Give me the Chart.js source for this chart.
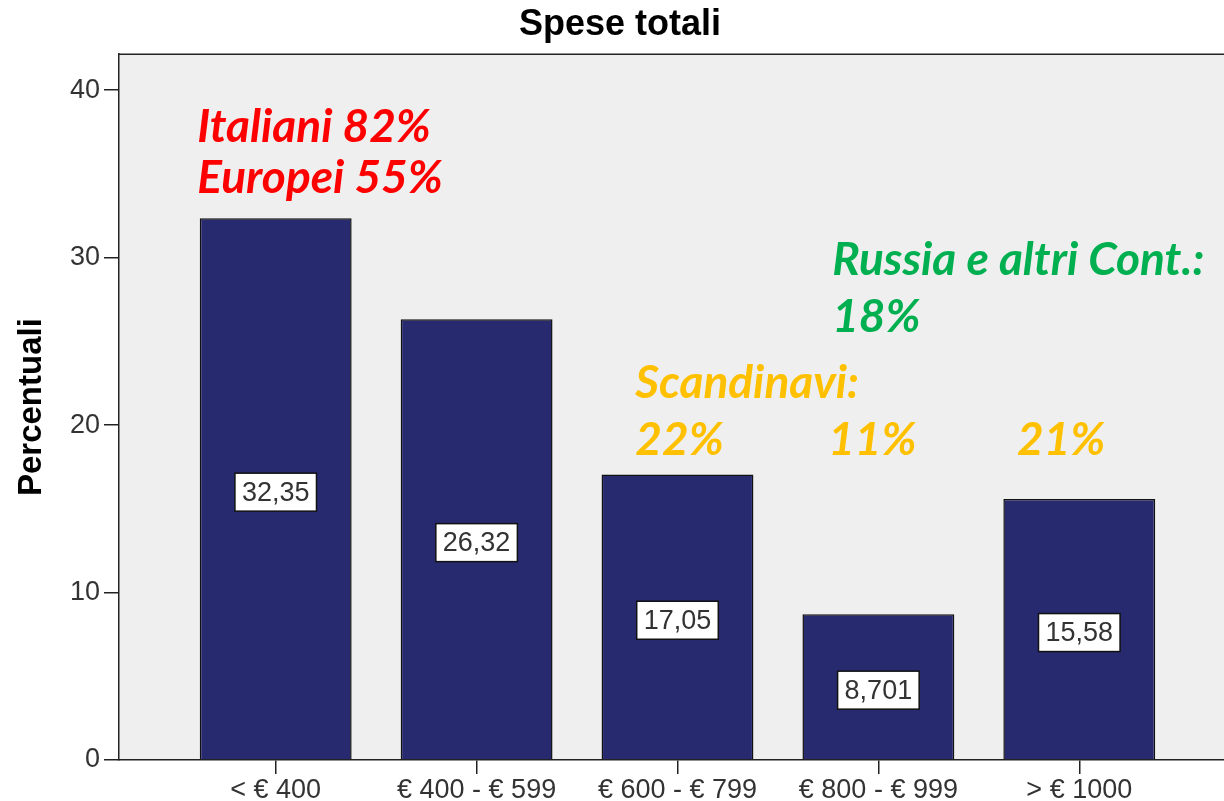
<!DOCTYPE html>
<html>
<head>
<meta charset="utf-8">
<title>Spese totali</title>
<script src="https://cdn.jsdelivr.net/npm/chart.js@4.4.1/dist/chart.umd.min.js"></script>
<style>
  html, body { margin: 0; padding: 0; background: #fff; overflow: hidden; }
</style>
</head>
<body>
<canvas id="chartCanvas" width="1240" height="801"></canvas>
<script>
// Data
const categories = ["< \u20AC 400", "\u20AC 400 - \u20AC 599", "\u20AC 600 - \u20AC 799", "\u20AC 800 - \u20AC 999", "> \u20AC 1000"];
const percentages = [32.35, 26.32, 17.05, 8.701, 15.58];
const yTicks = [0, 10, 20, 30, 40];

// Coloured notes (placed in data units: x = category index, y = percent)
const RED = "#ff0000", GREEN = "#00b050", GOLD = "#ffc000";
const notes = [
  { text: "Italiani 82%", color: RED, x: -0.39, y: 36.9 },
  { text: "Europei 55%", color: RED, x: -0.39, y: 33.85 },
  { text: "Russia e altri Cont.:", color: GREEN, x: 2.77, y: 28.96 },
  { text: "18%", color: GREEN, x: 2.77, y: 25.55 },
  { text: "Scandinavi:", color: GOLD, x: 1.79, y: 21.6 },
  { text: "22%", color: GOLD, x: 1.79, y: 18.2 },
  { text: "11%", color: GOLD, x: 2.75, y: 18.2 },
  { text: "21%", color: GOLD, x: 3.69, y: 18.2 }
];

const SANS = "'Liberation Sans', Arial, sans-serif";
const fmt = v => v.toPrecision(4).replace(".", ",");

// Grey plot background + top frame line
const plotBackground = {
  id: "plotBackground",
  beforeDraw(chart) {
    const { ctx, chartArea: a } = chart;
    ctx.save();
    ctx.fillStyle = "#efefef";
    ctx.fillRect(a.left, a.top, a.right - a.left, a.bottom - a.top);
    ctx.strokeStyle = "#222";
    ctx.lineWidth = 1.5;
    ctx.beginPath();
    ctx.moveTo(a.left, a.top);
    ctx.lineTo(a.right, a.top);
    ctx.stroke();
    ctx.restore();
  }
};

// Value boxes in the middle of the bars, and the coloured notes
const labelsAndNotes = {
  id: "labelsAndNotes",
  afterDatasetsDraw(chart) {
    const { ctx, scales: { x, y } } = chart;
    ctx.save();
    ctx.font = "27px " + SANS;
    ctx.textAlign = "center";
    ctx.textBaseline = "middle";
    percentages.forEach((v, i) => {
      const txt = fmt(v);
      const cx = x.getPixelForValue(i);
      const cy = y.getPixelForValue(v / 2) + 3;
      const w = ctx.measureText(txt).width + 14;
      const h = 38;
      ctx.fillStyle = "#fff";
      ctx.fillRect(cx - w / 2, cy - h / 2, w, h);
      ctx.strokeStyle = "#111";
      ctx.lineWidth = 1.5;
      ctx.strokeRect(cx - w / 2, cy - h / 2, w, h);
      ctx.fillStyle = "#333";
      ctx.fillText(txt, cx, cy + 1);
    });

    ctx.font = "italic bold 46px Lato, 'Open Sans', sans-serif";
    ctx.textAlign = "left";
    ctx.textBaseline = "alphabetic";
    notes.forEach(n => {
      ctx.fillStyle = n.color;
      ctx.fillText(n.text, x.getPixelForValue(n.x), y.getPixelForValue(n.y));
    });
    ctx.restore();
  }
};

const ctx = document.getElementById("chartCanvas").getContext("2d");

const chart = new Chart(ctx, {
  type: "bar",
  data: {
    datasets: [{
      data: percentages.map((v, i) => ({ x: i, y: v })),
      backgroundColor: "#282a70",
      borderColor: "#111",
      borderWidth: 1.5,
      barPercentage: 0.756,
      categoryPercentage: 1
    }]
  },
  options: {
    responsive: false,
    animation: false,
    layout: { padding: 0 },
    plugins: {
      legend: { display: false },
      tooltip: { enabled: false },
      title: {
        display: true,
        text: "Spese totali",
        color: "#000",
        font: { family: SANS, size: 36, weight: "bold" },
        padding: { top: 3, bottom: 8 }
      }
    },
    scales: {
      x: {
        type: "linear",
        offset: false,
        min: -0.78,
        max: 4.8,
        afterBuildTicks: s => { s.ticks = categories.map((c, i) => ({ value: i })); },
        afterFit: s => { s.height = 41; },
        border: { display: true, color: "#222", width: 1.5 },
        grid: { offset: false, drawOnChartArea: false, drawTicks: true, tickLength: 14, color: "#222", lineWidth: 1.5 },
        ticks: {
          callback: v => categories[v],
          color: "#333",
          font: { family: SANS, size: 27 },
          padding: 0,
          maxRotation: 0,
          autoSkip: false
        }
      },
      y: {
        min: 0,
        max: 42.15,
        afterBuildTicks: s => { s.ticks = yTicks.map(v => ({ value: v })); },
        afterFit: s => { s.width = 119; },
        border: { display: true, color: "#222", width: 1.5 },
        grid: { drawOnChartArea: false, drawTicks: true, tickLength: 15, color: "#222", lineWidth: 1.5 },
        ticks: {
          color: "#333",
          font: { family: SANS, size: 27 },
          padding: 4
        },
        title: {
          display: true,
          text: "Percentuali",
          color: "#000",
          font: { family: SANS, size: 33, weight: "bold" },
          padding: { top: 12 }
        }
      }
    }
  },
  plugins: [plotBackground, labelsAndNotes]
});
</script>
</body>
</html>
